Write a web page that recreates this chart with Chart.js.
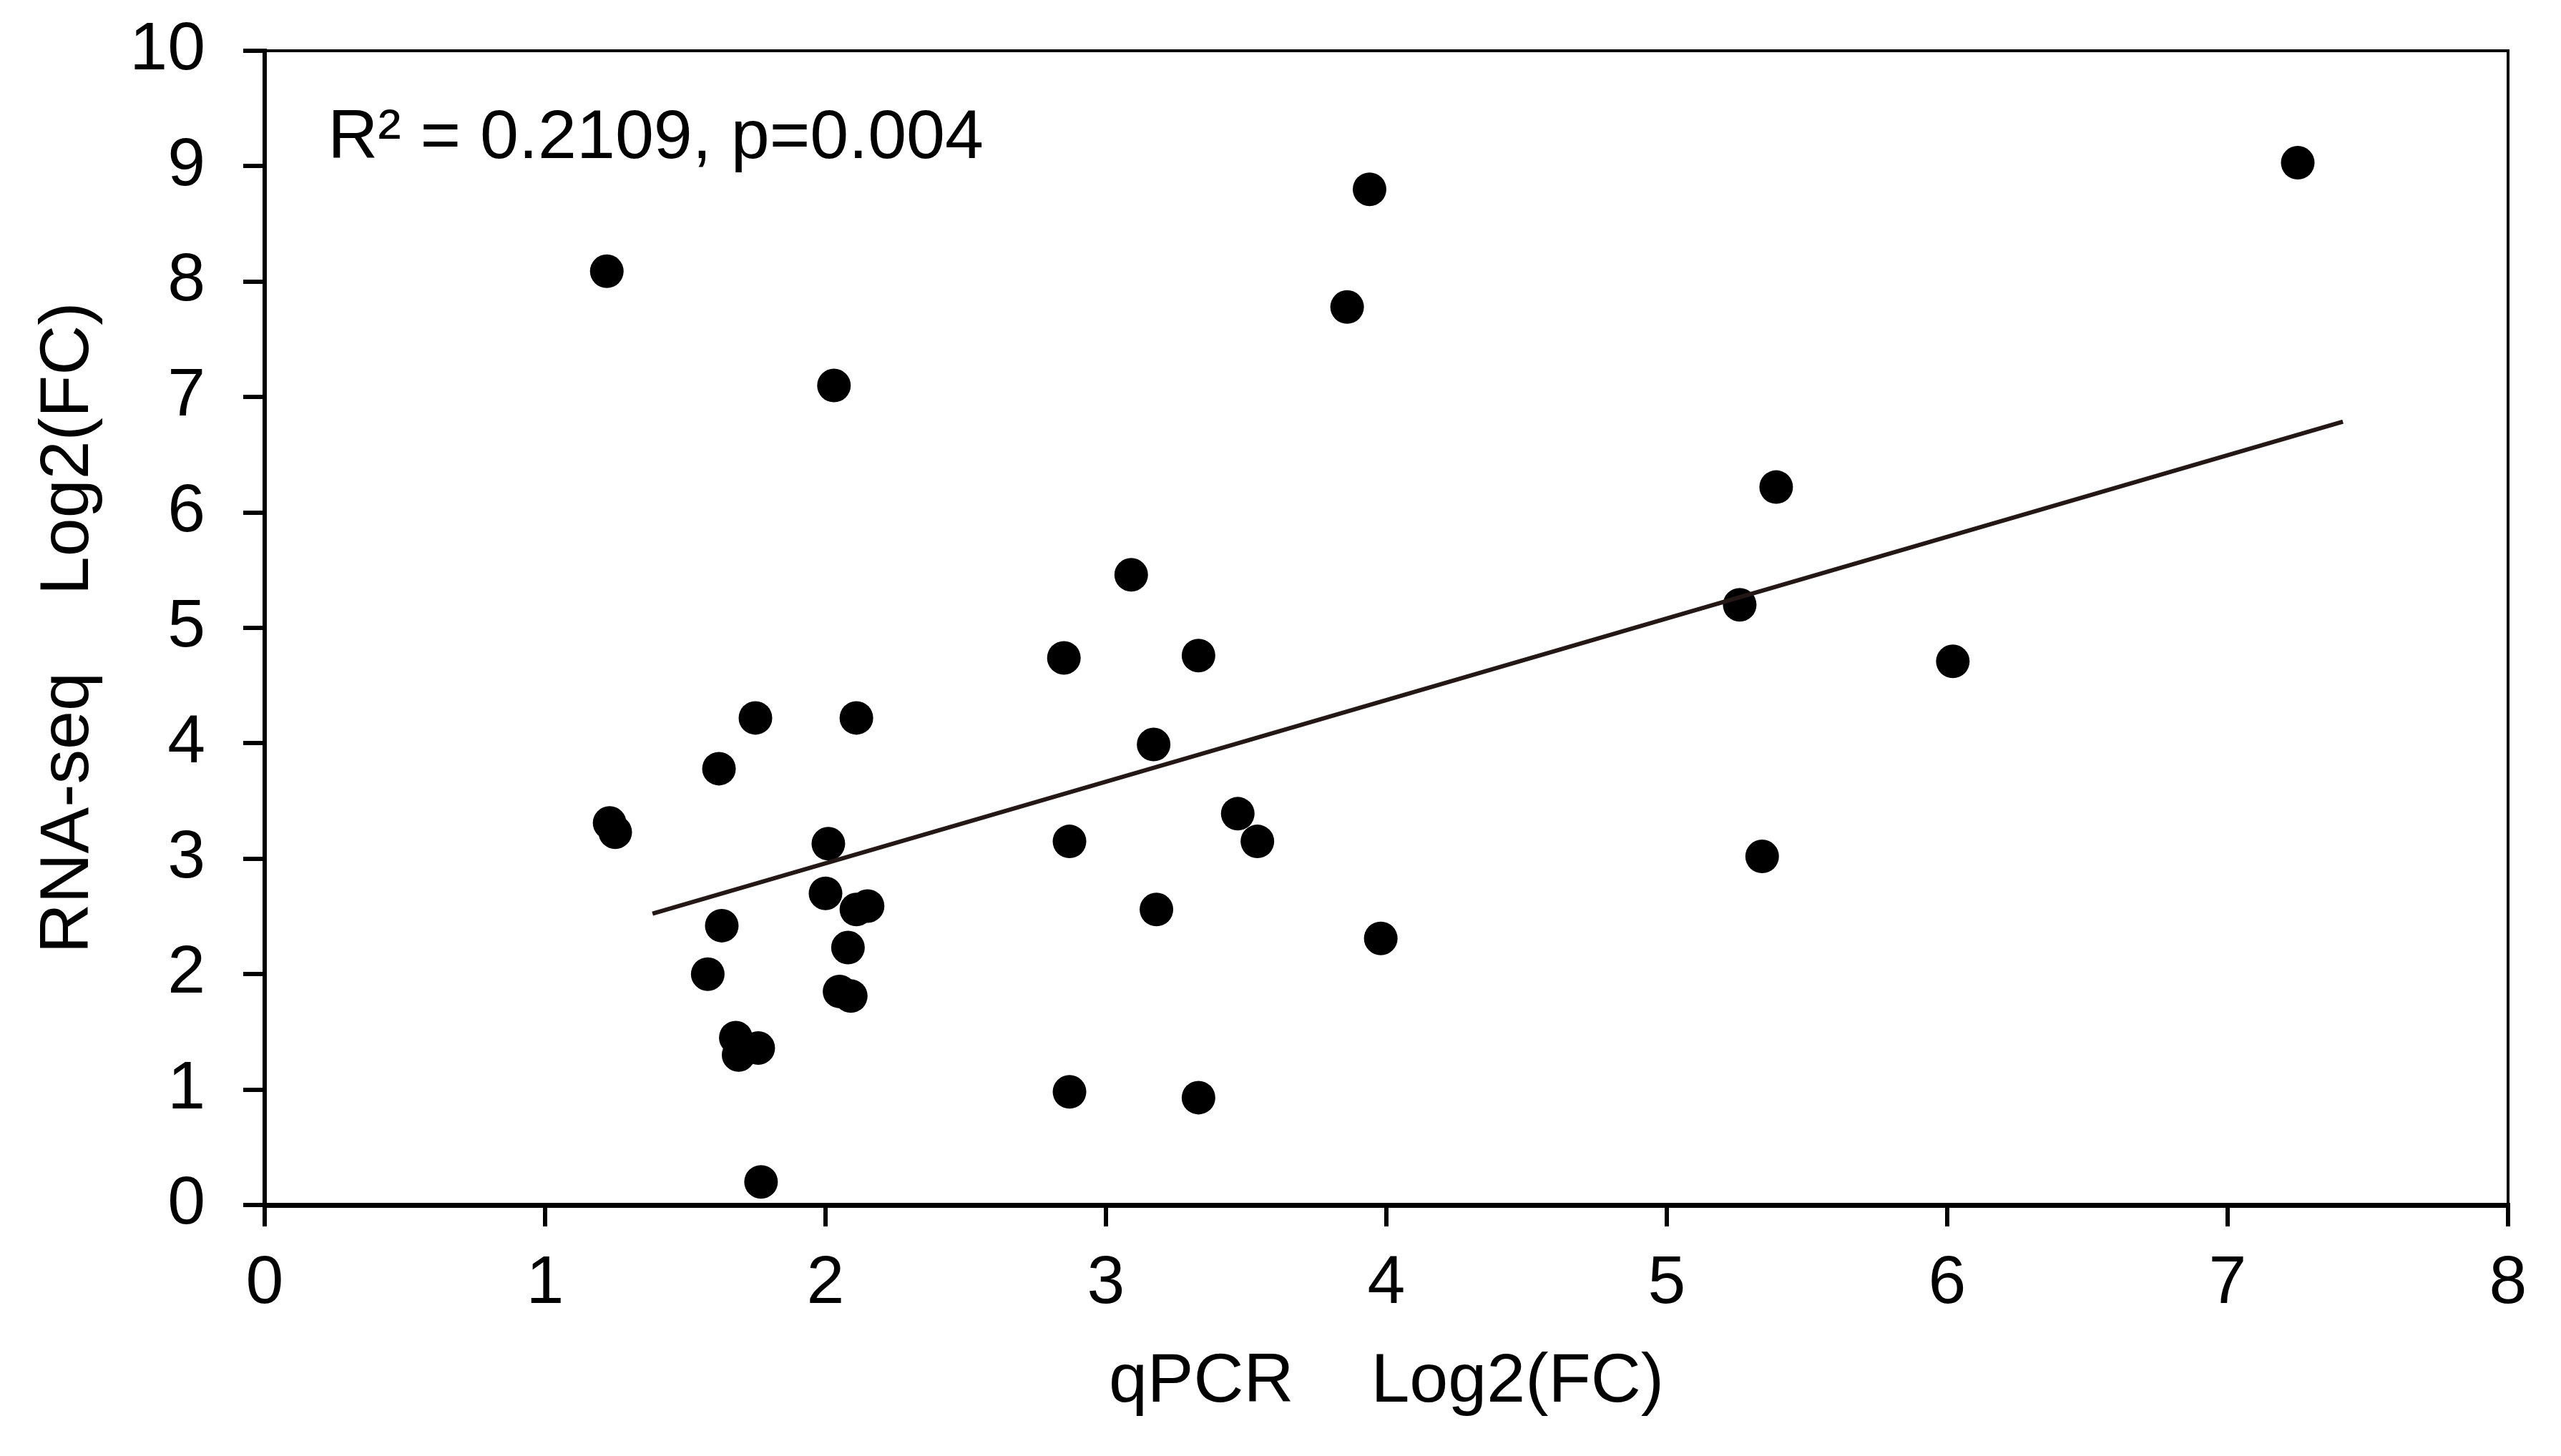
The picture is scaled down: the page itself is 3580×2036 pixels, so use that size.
<!DOCTYPE html>
<html lang="en">
<head>
  <meta charset="UTF-8">
  <title>qPCR vs RNA-seq Log2(FC)</title>
  <script src="https://cdn.jsdelivr.net/npm/chart.js"></script>
  <style>
    html, body {
      margin: 0;
      padding: 0;
      background: #fff;
      overflow: hidden;
    }
    #wrap {
      width: 3580px;
      height: 2036px;
    }
  </style>
</head>
<body>
  <div id="wrap">
    <canvas id="scatter"></canvas>
  </div>

  <script>
    // qPCR log2 fold change (x) and RNA-seq log2 fold change (y)
    const qpcr = [
      1.75, 2.11, 1.62, 1.23, 1.25, 2.01, 2.00, 2.11, 2.15, 1.63,
      2.08, 1.58, 2.05, 2.09, 1.68, 1.69, 1.76, 1.77,
      2.85, 3.33, 3.17, 3.47, 3.54, 2.87, 3.18, 3.98, 2.87, 3.33,
      1.22, 2.03, 3.94, 3.86, 3.09,
      5.39, 5.26, 6.02, 5.34, 7.25
    ];
    const rnaseq = [
      4.22, 4.22, 3.78, 3.31, 3.23, 3.13, 2.70, 2.56, 2.59, 2.42,
      2.23, 2.00, 1.85, 1.81, 1.45, 1.30, 1.36, 0.20,
      4.74, 4.76, 3.99, 3.39, 3.15, 3.15, 2.56, 2.31, 0.98, 0.93,
      8.09, 7.10, 8.80, 7.78, 5.46,
      6.22, 5.20, 4.71, 3.02, 9.03
    ];

    // end points of the fitted line
    const trendX = [1.383, 7.411];
    const trendY = [2.524, 6.786];

    const xTitle = 'qPCR    Log2(FC)';
    const yTitle = 'RNA-seq    Log2(FC)';
    const note = 'R\u00B2 = 0.2109, p=0.004';

    const fontFamily = '"Liberation Sans", Arial, sans-serif';
    const tickSize = 95;
    const textSize = 97;

    // keep the plot box where the layout padding puts it
    function noScalePadding(s) {
      s.paddingTop = 0;
      s.paddingBottom = 0;
      s.paddingLeft = 0;
      s.paddingRight = 0;
    }

    // thin frame on the top and right of the plot, plus the R² note
    const framePlugin = {
      id: 'frame',
      afterDraw(chart) {
        const { ctx, chartArea: a, scales } = chart;
        ctx.save();
        ctx.strokeStyle = '#000';
        ctx.lineWidth = 4;
        ctx.beginPath();
        ctx.moveTo(a.left, a.top);
        ctx.lineTo(a.right, a.top);
        ctx.lineTo(a.right, a.bottom);
        ctx.stroke();

        ctx.fillStyle = '#000';
        ctx.font = textSize + 'px ' + fontFamily;
        ctx.textAlign = 'left';
        ctx.textBaseline = 'alphabetic';
        ctx.fillText(note, scales.x.getPixelForValue(0.225), scales.y.getPixelForValue(9.07));
        ctx.restore();
      }
    };

    const points = qpcr.map((v, i) => ({ x: v, y: rnaseq[i] }));
    const trend = trendX.map((v, i) => ({ x: v, y: trendY[i] }));

    Chart.defaults.font.family = fontFamily;
    Chart.defaults.color = '#000';

    const ctx = document.getElementById('scatter').getContext('2d');
    new Chart(ctx, {
      type: 'scatter',
      data: {
        datasets: [
          {
            data: trend,
            showLine: true,
            borderColor: '#231815',
            borderWidth: 6,
            pointRadius: 0,
            fill: false
          },
          {
            data: points,
            backgroundColor: '#000',
            borderWidth: 0,
            pointRadius: 23.5,
            pointHoverRadius: 23.5
          }
        ]
      },
      options: {
        responsive: true,
        maintainAspectRatio: false,
        animation: false,
        devicePixelRatio: 1,
        layout: {
          padding: { top: 71, right: 74, left: 0, bottom: 0 }
        },
        plugins: {
          legend: { display: false },
          tooltip: { enabled: false }
        },
        scales: {
          x: {
            type: 'linear',
            min: 0,
            max: 8,
            afterFit(s) { s.height = 351; noScalePadding(s); },
            border: { display: true, color: '#000', width: 7 },
            grid: {
              drawOnChartArea: false,
              drawTicks: true,
              tickLength: 30,
              color: '#000',
              lineWidth: 6
            },
            ticks: {
              stepSize: 1,
              autoSkip: false,
              maxRotation: 0,
              padding: 24,
              font: { size: tickSize }
            },
            title: {
              display: true,
              text: xTitle,
              font: { size: textSize },
              padding: { top: 0, bottom: 45 }
            }
          },
          y: {
            type: 'linear',
            min: 0,
            max: 10,
            afterFit(s) { s.width = 370; noScalePadding(s); },
            border: { display: true, color: '#000', width: 6 },
            grid: {
              drawOnChartArea: false,
              drawTicks: true,
              tickLength: 30,
              color: '#000',
              lineWidth: 6
            },
            ticks: {
              stepSize: 1,
              autoSkip: false,
              padding: 53,
              font: { size: tickSize }
            },
            title: {
              display: true,
              text: yTitle,
              font: { size: textSize },
              padding: { top: 38, bottom: 0 }
            }
          }
        }
      },
      plugins: [framePlugin]
    });
  </script>
</body>
</html>
